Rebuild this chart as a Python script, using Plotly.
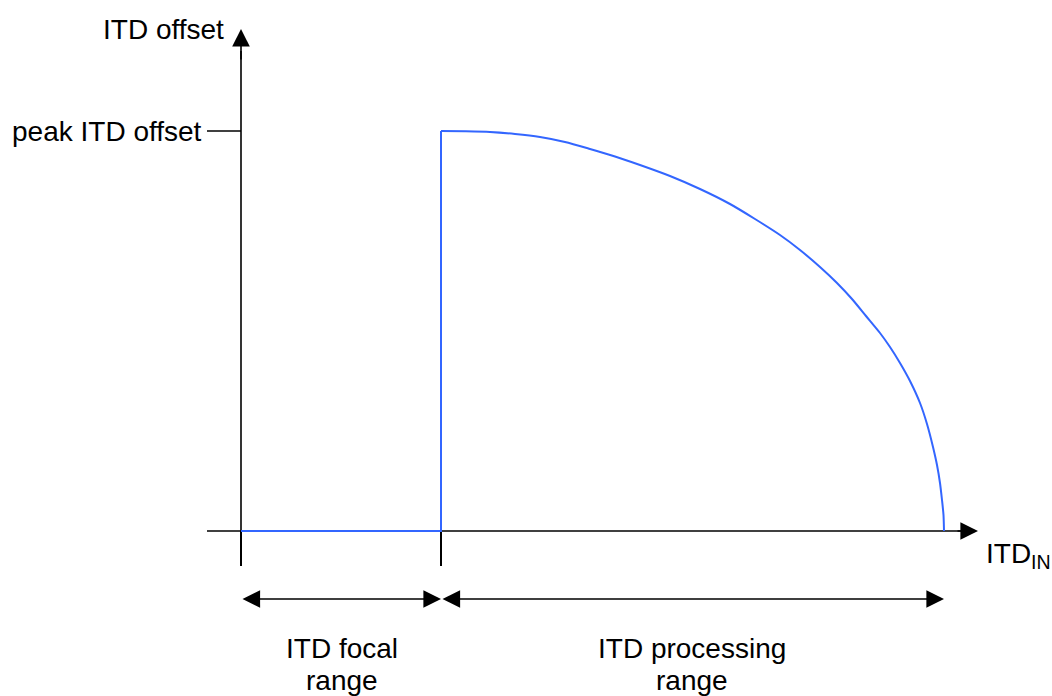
import plotly.graph_objects as go

# Schematic response of ITD offset versus input ITD (arbitrary units)
focal_end = 200          # end of the ITD focal range
processing_end = 703     # end of the ITD processing range
peak_offset = 400        # peak ITD offset

# zero-offset part inside the focal range and the jump to the peak
step_itd_in = [0, focal_end, focal_end]
step_offset = [0, 0, peak_offset]

# decaying branch across the processing range
curve_itd_in = [200, 224, 249, 274, 299, 324, 349, 374, 399, 429, 459, 489, 514, 539,
                559, 579, 596, 611, 625, 639, 649, 659, 669, 679, 686, 692, 696, 699,
                701, 702.5, 703]
curve_offset = [400, 399.7, 399, 397, 394, 389, 382, 374.5, 366, 355, 342, 327, 312, 296,
                281, 264, 248, 232, 215, 198, 184, 168, 150, 128, 107, 84, 66, 48,
                31, 16, 0]

BLUE = "rgb(51,102,255)"
FONT = "Liberation Sans, Arial, sans-serif"
FS = 28

fig = go.Figure()

shapes = []
# axis lines, kept beneath the response curve
shapes.append(dict(type="line", x0=-34, x1=725, y0=0, y1=0, layer="below",
                   line=dict(color="black", width=1.6)))
shapes.append(dict(type="line", x0=0, x1=0, y0=0, y1=480, layer="below",
                   line=dict(color="black", width=1.6)))
# tick marks below the x axis
for xv in [0, focal_end]:
    shapes.append(dict(type="line", x0=xv, x1=xv, y0=0, y1=-35, layer="below",
                       line=dict(color="black", width=2)))
# peak tick on the y axis
shapes.append(dict(type="line", x0=-34, x1=0, y0=peak_offset, y1=peak_offset, layer="below",
                   line=dict(color="black", width=1.5)))
fig.update_layout(shapes=shapes)

fig.add_trace(go.Scatter(x=step_itd_in, y=step_offset, mode="lines",
                         line=dict(color=BLUE, width=2), hoverinfo="skip"))
fig.add_trace(go.Scatter(x=curve_itd_in, y=curve_offset, mode="lines",
                         line=dict(color=BLUE, width=2, shape="spline", smoothing=0.7),
                         hoverinfo="skip"))

def arrow(x, y, ax, ay, both=False):
    fig.add_annotation(x=x, y=y, ax=ax, ay=ay, xref="x", yref="y", axref="x", ayref="y",
                       showarrow=True, arrowhead=2, arrowsize=2.2, arrowwidth=1.6,
                       arrowcolor="black", standoff=0, startstandoff=0,
                       startarrowhead=2, startarrowsize=2.2,
                       arrowside="end+start" if both else "end", text="")

# axis arrowheads
arrow(737, 0, 715, 0)
arrow(0, 502, 0, 470)
# range markers
arrow(focal_end, -68, 0, -68, both=True)
arrow(processing_end, -68, focal_end, -68, both=True)

def label(x, y, text, xanchor="center"):
    fig.add_annotation(x=x, y=y, xref="x", yref="y", text=text, showarrow=False,
                       xanchor=xanchor, yanchor="middle",
                       font=dict(family=FONT, size=FS, color="black"))

label(-78, 502, "ITD offset")
label(-37, peak_offset, "peak ITD offset", xanchor="right")
label(743, -24, "ITD<sub>IN</sub>", xanchor="left")
label(101, -117, "ITD focal")
label(101, -149, "range")
label(451, -117, "ITD processing")
label(451, -149, "range")

fig.update_xaxes(range=[-241, 811], visible=False, fixedrange=True)
fig.update_yaxes(range=[-165, 531], visible=False, fixedrange=True)
fig.update_layout(width=1052, height=696, margin=dict(l=0, r=0, t=0, b=0),
                  plot_bgcolor="white", paper_bgcolor="white", showlegend=False)

fig.write_html("out.html")
